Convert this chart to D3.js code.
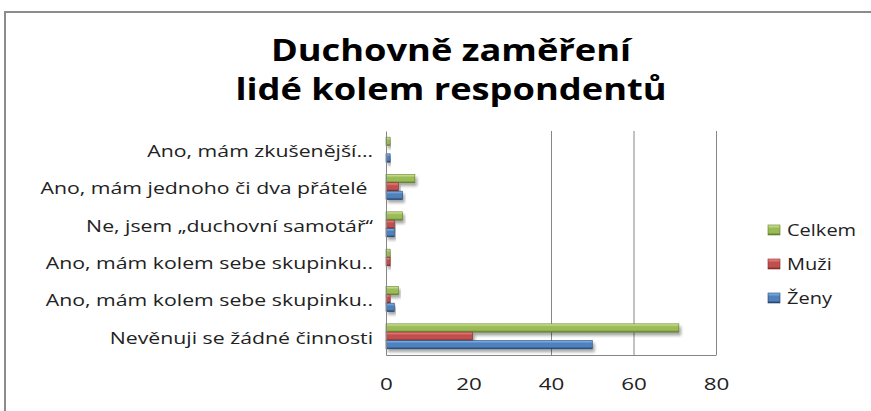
<!DOCTYPE html>
<html>
<head>
<meta charset="utf-8">
<script src="https://cdn.jsdelivr.net/npm/d3@7"></script>
<style>
  body { margin: 0; background: #fff; }
  text { font-family: "Open Sans", "DejaVu Sans", sans-serif; }
</style>
</head>
<body>
<svg id="chart" width="871" height="411"></svg>
<script>
// data, top row first
var categories = [
    "Ano, mám zkušenější…",
    "Ano, mám jednoho či dva přátelé ",
    "Ne, jsem „duchovní samotář“",
    "Ano, mám kolem sebe skupinku..",
    "Ano, mám kolem sebe skupinku..",
    "Nevěnuji se žádné činnosti"
];
var celkem = [1, 7, 4, 1, 3, 71];
var muzi = [0, 3, 2, 1, 1, 21];
var zeny = [1, 4, 2, 0, 2, 50];
var seriesNames = ["Celkem", "Muži", "Ženy"];
var xTicks = [0, 20, 40, 60, 80];
var gridTicks = [40, 60, 80];
var titleLines = ["Duchovně zaměření", "lidé kolem respondentů"];

var colors = {
    "Celkem": ["#d7eb93", "#9bbb59", "#5f7a2a"],
    "Muži":   ["#ff8a86", "#c0504d", "#7c2a28"],
    "Ženy":   ["#86bdf5", "#4f81bd", "#23406a"]
};
var seriesData = { "Celkem": celkem, "Muži": muzi, "Ženy": zeny };

var svg = d3.select("#chart");
var defs = svg.append("defs");

// the original's text is drawn wide, so stretch each text horizontally round its anchor
function stretch(sel, sx) {
    sel.each(function () {
        var t = d3.select(this);
        var tx = +t.attr("x") || 0;
        t.attr("x", 0).attr("transform", "translate(" + tx + ",0) scale(" + sx + ",1)");
    });
}

// bar gradients, light on top, dark at the bottom edge
seriesNames.forEach(function (s, i) {
    var g = defs.append("linearGradient")
        .attr("id", "grad" + i)
        .attr("x1", 0).attr("y1", 0).attr("x2", 0).attr("y2", 1);
    g.append("stop").attr("offset", "0%").attr("stop-color", colors[s][0]);
    g.append("stop").attr("offset", "35%").attr("stop-color", colors[s][1]);
    g.append("stop").attr("offset", "75%").attr("stop-color", colors[s][1]);
    g.append("stop").attr("offset", "100%").attr("stop-color", colors[s][2]);
});
var shadow = defs.append("filter").attr("id", "shadow")
    .attr("x", "-10%").attr("y", "-30%").attr("width", "130%").attr("height", "200%");
shadow.append("feGaussianBlur").attr("in", "SourceAlpha").attr("stdDeviation", 1.5);
shadow.append("feOffset").attr("dx", 2).attr("dy", 3).attr("result", "off");
shadow.append("feComponentTransfer").append("feFuncA").attr("type", "linear").attr("slope", 0.35);
var merge = shadow.append("feMerge");
merge.append("feMergeNode");
merge.append("feMergeNode").attr("in", "SourceGraphic");

// outer frame (only top and left edges show)
svg.append("path")
    .attr("d", "M5,411V12H871")
    .attr("fill", "none")
    .attr("stroke", "#8c8c8c")
    .attr("stroke-width", 2);

// title
svg.append("g").selectAll("text")
    .data(titleLines)
    .enter().append("text")
    .attr("x", 451)
    .attr("y", function (d, i) { return 61 + i * 39; })
    .attr("text-anchor", "middle")
    .attr("font-size", 31)
    .attr("font-weight", "bold")
    .attr("fill", "#000")
    .text(function (d) { return d; })
    .call(stretch, 1.17);

var plot = { left: 386, right: 716, top: 131, bottom: 355 };

var x = d3.scaleLinear().domain([0, 80]).range([plot.left, plot.right]);
var y = d3.scaleBand()
    .domain(d3.range(categories.length))
    .range([plot.top, plot.bottom]);
var ySub = d3.scaleBand()
    .domain(seriesNames)
    .range([0, 25]);
var groupOffset = (y.bandwidth() - 25) / 2;

// gridlines
svg.append("g")
    .attr("transform", "translate(0," + plot.top + ")")
    .call(d3.axisBottom(x).tickValues(gridTicks)
        .tickSize(plot.bottom - plot.top).tickFormat(""))
    .call(function (g) { g.select(".domain").remove(); })
    .selectAll("line").attr("stroke", "#868686");

// bars, one group per category row
var rows = svg.append("g").selectAll("g")
    .data(d3.range(categories.length))
    .enter().append("g")
    .attr("transform", function (i) { return "translate(0," + (y(i) + groupOffset) + ")"; });

seriesNames.forEach(function (s, si) {
    rows.filter(function (i) { return seriesData[s][i] > 0; })
        .append("rect")
        .attr("x", x(0))
        .attr("y", ySub(s))
        .attr("width", function (i) { return x(seriesData[s][i]) - x(0); })
        .attr("height", ySub.bandwidth())
        .attr("fill", "url(#grad" + si + ")")
        .attr("stroke", colors[s][2])
        .attr("stroke-width", 0.6)
        .attr("filter", "url(#shadow)");
});

// axes
svg.append("g")
    .attr("transform", "translate(0," + plot.bottom + ")")
    .call(d3.axisBottom(x).tickValues(xTicks).tickSize(0).tickPadding(24))
    .call(function (g) {
        g.select(".domain").attr("stroke", "#868686");
        g.selectAll("text").attr("font-size", 16).attr("fill", "#222")
            .style("font-family", "'Open Sans', sans-serif")
            .call(stretch, 1.4);
    });

svg.append("g")
    .attr("transform", "translate(" + plot.left + ",0)")
    .call(d3.axisLeft(y).tickSize(0).tickPadding(13)
        .tickFormat(function (i) { return categories[i]; }))
    .call(function (g) {
        g.select(".domain").attr("stroke", "#868686");
        g.selectAll("text").attr("font-size", 16).attr("fill", "#222")
            .attr("dy", "0.45em")
            .style("white-space", "pre")
            .style("font-family", "'Open Sans', sans-serif")
            .call(stretch, 1.33);
    });

// legend
var legend = svg.append("g").selectAll("g")
    .data(seriesNames)
    .enter().append("g")
    .attr("transform", function (d, i) { return "translate(768," + (230 + i * 34) + ")"; });
legend.append("rect")
    .attr("x", 0).attr("y", -5)
    .attr("width", 12).attr("height", 10)
    .attr("fill", function (d, i) { return "url(#grad" + i + ")"; })
    .attr("stroke", function (d) { return colors[d][2]; })
    .attr("stroke-width", 0.6);
legend.append("text")
    .attr("x", 19)
    .attr("dy", "0.35em")
    .attr("font-size", 16)
    .attr("fill", "#222")
    .text(function (d) { return d; })
    .call(stretch, 1.25);
</script>
</body>
</html>
